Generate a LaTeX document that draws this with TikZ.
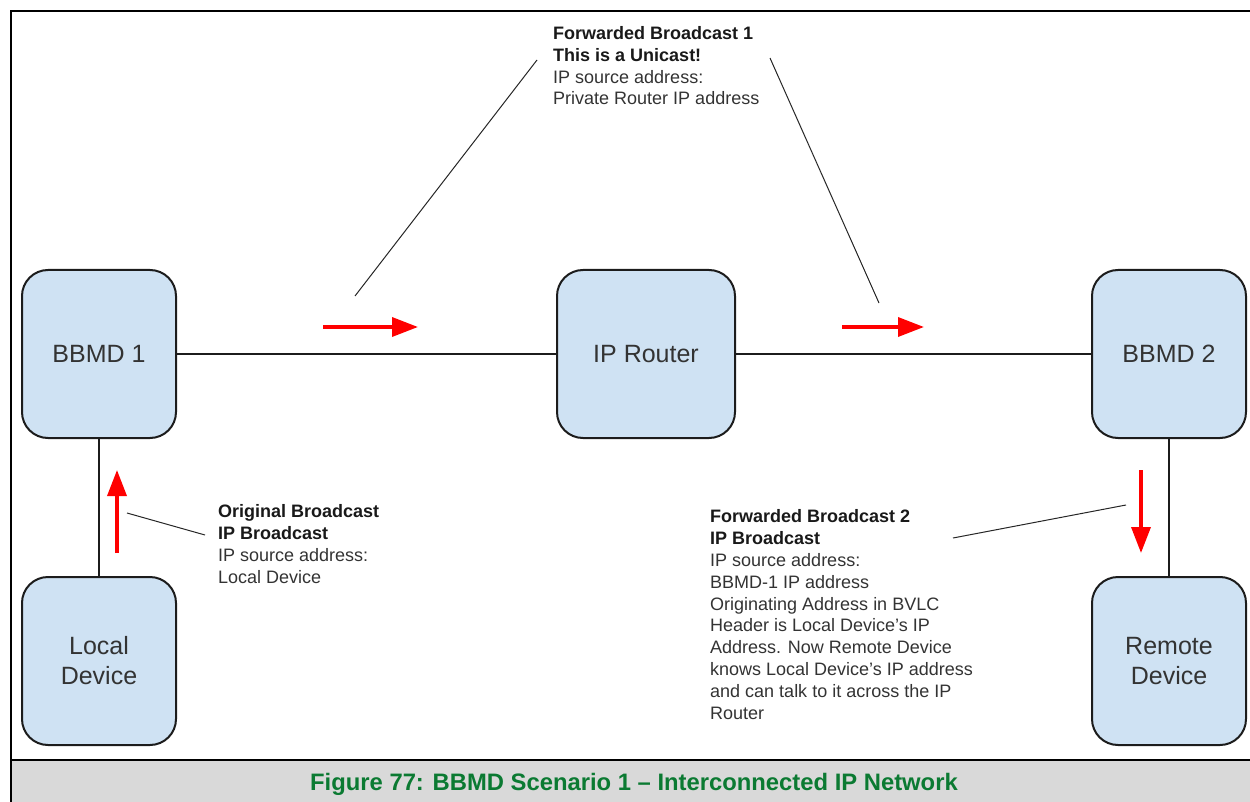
\documentclass[tikz,border=0pt]{standalone}
\usepackage{fontspec}
\setmainfont{Liberation Sans}
\usetikzlibrary{positioning,arrows.meta}
\definecolor{boxblue}{HTML}{CFE2F3}
\definecolor{boxline}{HTML}{1C1C1C}
\definecolor{txtgray}{HTML}{333333}
\definecolor{capgreen}{HTML}{0B7A32}
\definecolor{capgray}{HTML}{D9D9D9}
\definecolor{flowred}{HTML}{FF0000}
\tikzset{
  dev/.style  ={draw=boxline, line width=2pt, fill=boxblue, rounded corners=26pt,
                minimum width=154pt, minimum height=168pt, inner sep=0pt,
                align=center, font=\fontsize{25}{30}\selectfont, text=txtgray},
  link/.style ={draw=boxline, line width=2.2pt},
  flow/.style ={draw=flowred, line width=3.5pt, -{Triangle[length=26pt,width=19pt]}},
  lead/.style ={draw=black!85, line width=1pt},
  note/.style ={align=left, anchor=base west, inner sep=0pt,
                font=\fontsize{18}{21.8}\selectfont, text=txtgray},
}
\newcommand{\hdline}[1]{{\bfseries\color{black!90}#1}}

\begin{document}
\begin{tikzpicture}[x=1pt,y=-1pt]
  \useasboundingbox (0,0) rectangle (1250,802);
  % frame and caption bar
  \fill[capgray] (11,760) rectangle (1250,802);
  \draw[line width=1.6pt] (11,760) -- (1250,760);
  \draw[line width=2.6pt] (1250,11) -- (11,11) -- (11,802);
  \node[font=\bfseries\fontsize{23.8}{28}\selectfont, text=capgreen, anchor=base]
    (cap) at (634,790) {Figure 77: BBMD Scenario 1 -- Interconnected IP Network};

  % devices
  \node[dev] (bbmd1) at (99,354) {BBMD 1};
  \node[dev, minimum width=178pt] (router) at (646,354) {IP Router};
  \node[dev] (bbmd2) at (1169,354) {BBMD 2};
  \node[dev] (localdev) at (99,661) {Local\\Device};
  \node[dev] (remotedev) at (1169,661) {Remote\\Device};

  \draw[link] (bbmd1) -- (router);
  \draw[link] (router) -- (bbmd2);
  \draw[link] (bbmd1) -- (localdev);
  \draw[link] (bbmd2) -- (remotedev);

  % red flow arrows
  \coordinate (f1a) at (323,327); \coordinate (f1b) at (418,327);
  \coordinate (f2a) at (842,327); \coordinate (f2b) at (924,327);
  \coordinate (f3a) at (117,553); \coordinate (f3b) at (117,470);
  \coordinate (f4a) at (1141,470); \coordinate (f4b) at (1141,553);
  \draw[flow] (f1a) -- (f1b);
  \draw[flow] (f2a) -- (f2b);
  \draw[flow] (f3a) -- (f3b);
  \draw[flow] (f4a) -- (f4b);

  % notes (anchored on the baseline of their last line)
  \node[note] (n1) at (553,105) {\hdline{Forwarded Broadcast 1}\\\hdline{This is a Unicast!}\\
    IP source address:\\Private Router IP address};
  \node[note] (n2) at (218,583) {\hdline{Original Broadcast}\\\hdline{IP Broadcast}\\
    IP source address:\\Local Device};
  \node[note] (n3) at (710,719) {\hdline{Forwarded Broadcast 2}\\\hdline{IP Broadcast}\\
    IP source address:\\BBMD-1 IP address\\Originating Address in BVLC\\
    Header is Local Device's IP\\Address. Now Remote Device\\
    knows Local Device's IP address\\and can talk to it across the IP\\Router};

  % leader lines
  \coordinate (l1a) at (355,296); \coordinate (l1b) at (537,60);
  \coordinate (l2a) at (770,58);  \coordinate (l2b) at (879,303);
  \coordinate (l3a) at (127,513); \coordinate (l3b) at (205,535);
  \coordinate (l4a) at (953,538); \coordinate (l4b) at (1126,505);
  \draw[lead] (l1a) -- (l1b);
  \draw[lead] (l2a) -- (l2b);
  \draw[lead] (l3a) -- (l3b);
  \draw[lead] (l4a) -- (l4b);
\end{tikzpicture}
\end{document}
